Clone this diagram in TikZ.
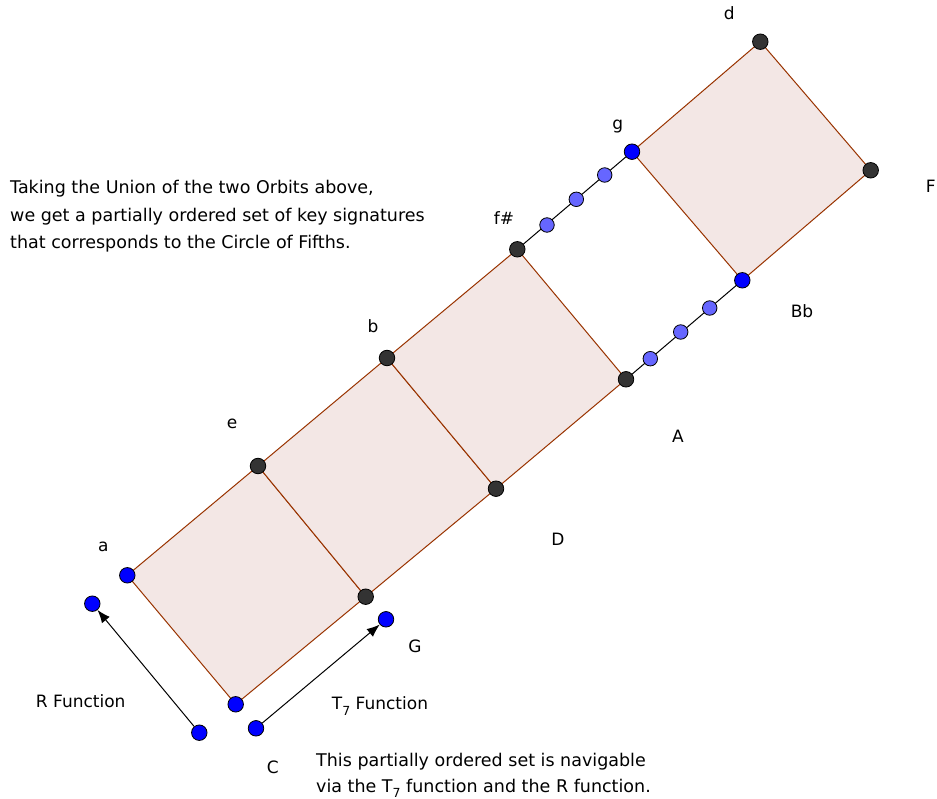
\documentclass[tikz,border=0pt]{standalone}
\usepackage{fontspec}
\setmainfont{DejaVu Sans}
\usetikzlibrary{arrows.meta,backgrounds}
\definecolor{edgebrown}{RGB}{153,51,0}
\definecolor{polyfill}{RGB}{243,231,229}
\definecolor{dotblue}{RGB}{0,0,255}
\definecolor{dotdark}{RGB}{51,51,51}
\definecolor{dotpurple}{RGB}{102,102,255}
\tikzset{
 dotbase/.style={circle,draw=black,line width=0.8pt,minimum size=15.5pt,inner sep=0pt},
 bdot/.style={dotbase,fill=dotblue},
 kdot/.style={dotbase,fill=dotdark},
 pdot/.style={dotbase,fill=dotpurple,minimum size=14.5pt},
 poly/.style={draw=edgebrown,fill=polyfill,line width=1pt,line join=round},
 link/.style={draw=black,line width=1pt},
 arr/.style={draw=black,line width=1pt,-{Latex[length=13pt,width=10pt]}},
 lbl/.style={font=\fontsize{17}{20}\selectfont,inner sep=0pt},
 txt/.style={font=\fontsize{17.5}{20}\selectfont,inner sep=0pt,anchor=base west},
}
\newcommand{\tsev}{T\raisebox{-0.6ex}{\fontsize{12.5}{12.5}\selectfont 7}}
\begin{document}
\begin{tikzpicture}[x=1pt,y=-1pt]
\useasboundingbox (0,0) rectangle (937,799);
% dots
\node[bdot] (a) at (127.3,575.3) {};
\node[bdot] (C) at (235.7,704.3) {};
\node[kdot] (G) at (365.7,596.7) {};
\node[kdot] (e) at (258,466) {};
\node[kdot] (b) at (387,358) {};
\node[kdot] (D) at (496,488.7) {};
\node[kdot] (fs) at (517.3,249.3) {};
\node[kdot] (A) at (626,379.3) {};
\node[bdot] (g) at (632,151.7) {};
\node[bdot] (Bb) at (742.3,280.3) {};
\node[kdot] (d) at (760.3,41.7) {};
\node[kdot] (F) at (870.7,170.3) {};
% arrow dots
\node[bdot] (r1) at (199.3,732.7) {};
\node[bdot] (r0) at (92.3,603.7) {};
\node[bdot] (t0) at (256,728.3) {};
\node[bdot] (t1) at (386,619.3) {};
% polygons and links on background
\begin{scope}[on background layer]
\fill[white] (0,0) rectangle (937,799);
\draw[poly] (a.center) -- (e.center) -- (G.center) -- (C.center) -- cycle;
\draw[poly] (e.center) -- (b.center) -- (D.center) -- (G.center) -- cycle;
\draw[poly] (b.center) -- (fs.center) -- (A.center) -- (D.center) -- cycle;
\draw[poly] (g.center) -- (d.center) -- (F.center) -- (Bb.center) -- cycle;
\draw[link] (fs.center) -- (g.center);
\draw[link] (A.center) -- (Bb.center);
\end{scope}
% purple dots
\node[pdot] (p1) at (547,225) {};
\node[pdot] (p2) at (576.3,199.3) {};
\node[pdot] (p3) at (604.7,175) {};
\node[pdot] (q1) at (650.3,358.7) {};
\node[pdot] (q2) at (680.7,332) {};
\node[pdot] (q3) at (709.7,308) {};
% arrows
\draw[arr] (r1) -- (r0);
\draw[arr] (t0) -- (t1);
% labels
\node[lbl] (ld) at (729.3,13.3) {d};
\node[lbl] (lF) at (930.7,186.7) {F};
\node[lbl] (lg) at (617.7,126.7) {g};
\node[lbl] (lfs) at (504,218.3) {f\#};
\node[lbl] (lb) at (373,326) {b};
\node[lbl] (le) at (232,424) {e};
\node[lbl] (la) at (103.3,546.7) {a};
\node[lbl] (lBb) at (802,311) {Bb};
\node[lbl] (lA) at (678,436) {A};
\node[lbl] (lD) at (558,539) {D};
\node[lbl] (lG) at (415,646) {G};
\node[lbl] (lC) at (272.7,767.7) {C};
\node[lbl] (lR) at (80.7,701) {R Function};
\node[lbl] (lT) at (380,706) {\tsev\ Function};
% texts
\node[txt] (t1a) at (10,194) {Taking the Union of the two Orbits above,};
\node[txt] (t1b) at (10,221.5) {we get a partially ordered set of key signatures};
\node[txt] (t1c) at (10,249) {that corresponds to the Circle of Fifths.};
\node[txt] (t2a) at (316,766) {This partially ordered set is navigable};
\node[txt] (t2b) at (316,792) {via the \tsev\ function and the R function.};
\end{tikzpicture}
\end{document}
